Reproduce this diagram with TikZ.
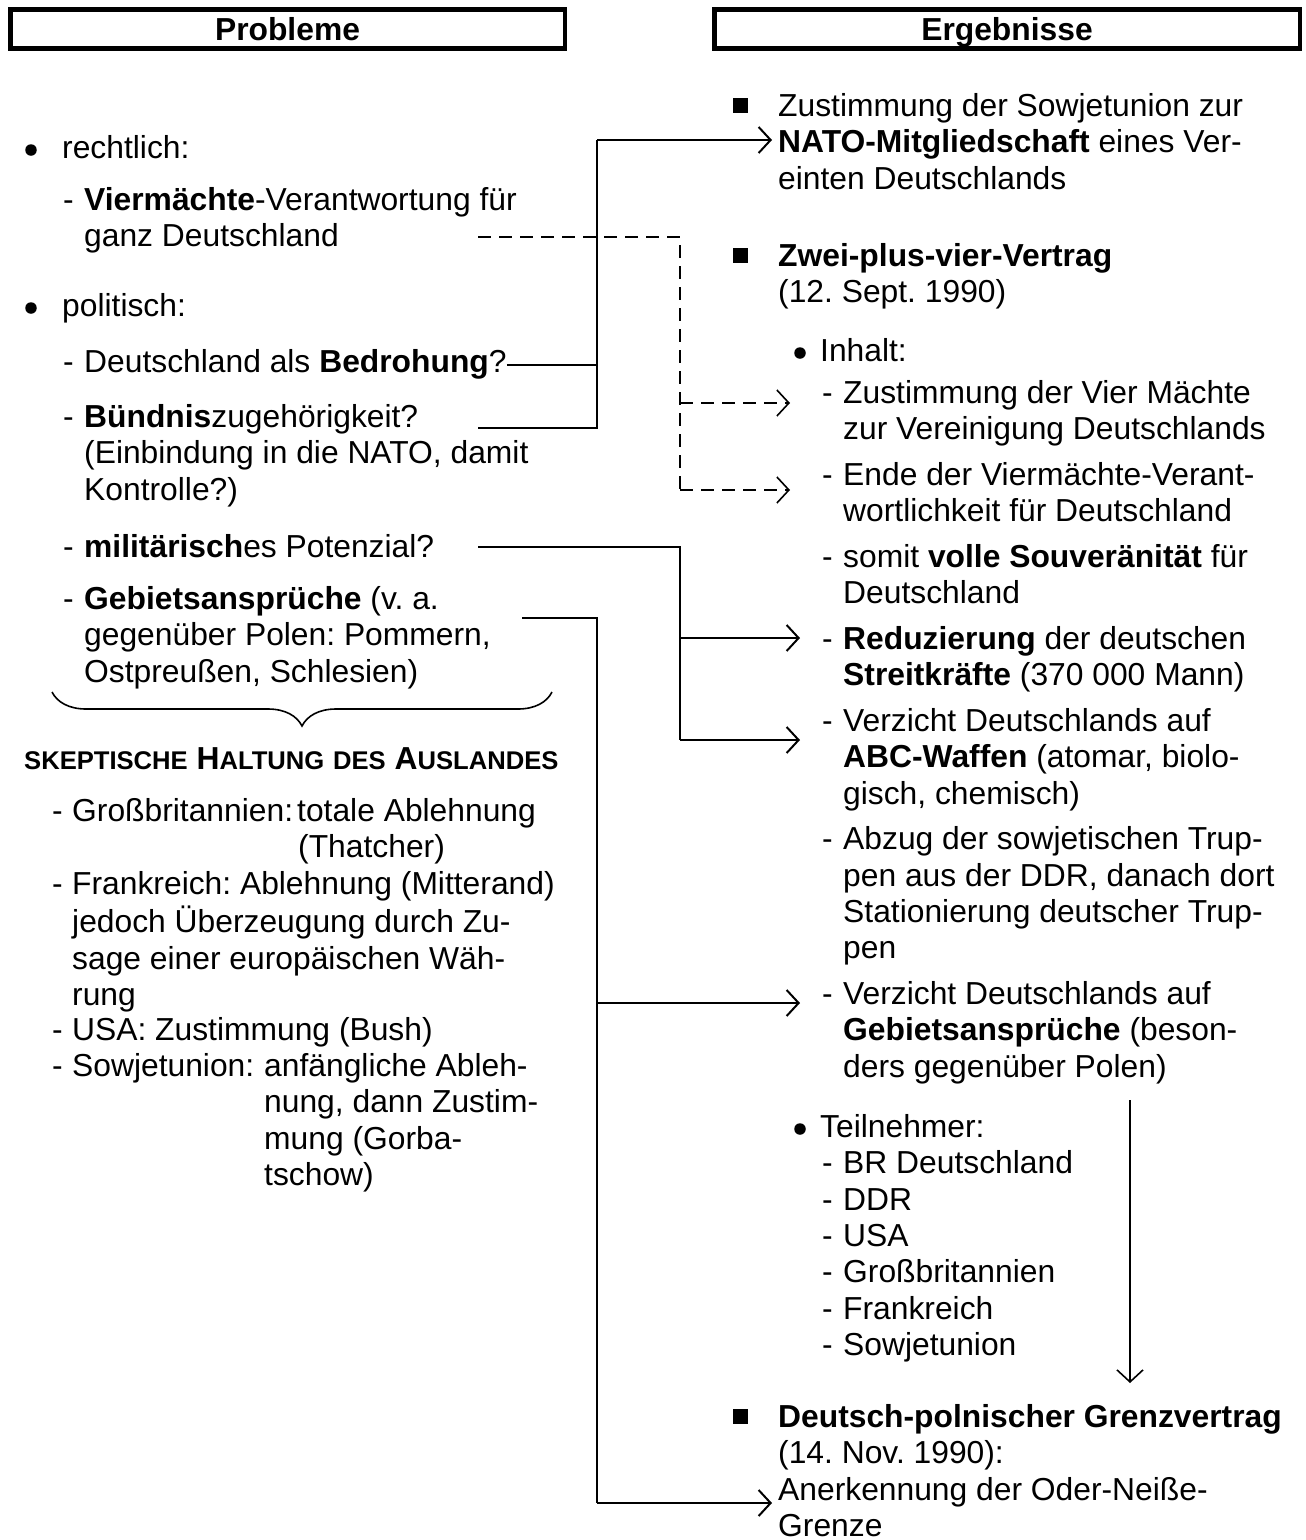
\documentclass[tikz,border=0pt]{standalone}
\usepackage{fontspec}
\setmainfont{Liberation Sans}
\usetikzlibrary{arrows.meta,decorations.pathreplacing}
\newcommand\bodyfont{\fontsize{31.8}{36.4}\selectfont}
\newcommand\scfont{\fontsize{25.6}{36.4}\selectfont}
\newcommand\TX[4]{\node[txt] (#1) at (#2,#3-25.48) {\strut #4};}
\frenchspacing
\begin{document}
\begin{tikzpicture}[x=1pt,y=-1pt,font=\bodyfont,
  txt/.style={inner sep=0pt,anchor=north west,align=left},
  hdr/.style={draw,line width=4.5pt,inner sep=0pt,text height=22.8pt,text depth=0pt,font=\bodyfont\bfseries},
  dot/.style={circle,fill,inner sep=0pt,minimum size=11.5pt},
  sq/.style={rectangle,fill,inner sep=0pt,minimum size=15pt},
  conn/.style={line width=2pt},
  dconn/.style={line width=1.6pt,dash pattern=on 13pt off 8pt},
  arr/.style={-{Straight Barb[length=12pt,width=26pt]}}]
\useasboundingbox (0,0) rectangle (1306,1540);

% headers
\node[hdr,minimum width=554.5pt,minimum height=39pt] (hP) at (287.5,29) {Probleme};
\node[hdr,minimum width=585.5pt,minimum height=39pt] (hE) at (1007,29) {Ergebnisse};

% ---------- left column ----------
\node[dot] (bl1) at (31,150) {};
\TX{rechtl}{62}{158}{rechtlich:}
\TX{d1}{63}{210}{-}
\TX{vierm}{84}{210}{\textbf{Viermächte}-Verantwortung für\\ganz Deutschland}
\node[dot] (bl2) at (31,308) {};
\TX{polit}{62}{316}{politisch:}
\TX{d2}{63}{372}{-}
\TX{bedro}{84}{372}{Deutschland als \textbf{Bedrohung}?}
\TX{d3}{63}{427}{-}
\TX{buend}{84}{427}{\textbf{Bündnis}zugehörigkeit?\\(Einbindung in die NATO, damit\\Kontrolle?)}
\TX{d4}{63}{557}{-}
\TX{milit}{84}{557}{\textbf{militärisch}es Potenzial?}
\TX{d5}{63}{609}{-}
\TX{gebiet}{84}{609}{\textbf{Gebietsansprüche} (v. a.\\gegenüber Polen: Pommern,\\Ostpreußen, Schlesien)}

\draw[line width=1.6pt,decorate,decoration={brace,mirror,amplitude=34pt}] (52,692) -- (552,692);

\TX{skep}{24}{769}{\bfseries{\scfont SKEPTISCHE} H{\scfont ALTUNG} {\scfont DES} A{\scfont USLANDES}}

\TX{d6}{52}{821}{-}
\TX{gb}{72}{821}{Großbritannien:}
\TX{gbv}{297}{821}{totale Ablehnung\\\hspace*{1pt}(Thatcher)}
\TX{d7}{52}{894}{-}
\TX{fr}{72}{894}{Frankreich: Ablehnung (Mitterand)\\jedoch Überzeugung durch Zu-\\sage einer europäischen Wäh-\\rung}
\TX{d8}{52}{1040}{-}
\TX{usa}{72}{1040}{USA: Zustimmung (Bush)}
\TX{d9}{52}{1076}{-}
\TX{su}{72}{1076}{Sowjetunion:}
\TX{suv}{264}{1076}{anfängliche Ableh-\\nung, dann Zustim-\\mung (Gorba-\\tschow)}

% ---------- right column ----------
\node[sq] (sq1) at (740.5,105) {};
\TX{nato}{778}{116}{Zustimmung der Sowjetunion zur\\\textbf{NATO-Mitgliedschaft} eines Ver-\\einten Deutschlands}
\node[sq] (sq2) at (740.5,255) {};
\TX{zpv}{778}{266}{\textbf{Zwei-plus-vier-Vertrag}\\(12. Sept. 1990)}
\node[dot] (bl3) at (800,353) {};
\TX{inh}{820}{361}{Inhalt:}
\TX{d10}{822}{403}{-}
\TX{vier}{843}{403}{Zustimmung der Vier Mächte\\zur Vereinigung Deutschlands}
\TX{d11}{822}{485}{-}
\TX{ende}{843}{485}{Ende der Viermächte-Verant-\\wortlichkeit für Deutschland}
\TX{d12}{822}{567}{-}
\TX{somit}{843}{567}{somit \textbf{volle Souveränität} für\\Deutschland}
\TX{d13}{822}{649}{-}
\TX{redu}{843}{649}{\textbf{Reduzierung} der deutschen\\\textbf{Streitkräfte} (370 000 Mann)}
\TX{d14}{822}{731}{-}
\TX{abc}{843}{731}{Verzicht Deutschlands auf\\\textbf{ABC-Waffen} (atomar, biolo-\\gisch, chemisch)}
\TX{d15}{822}{849.4}{-}
\TX{abzug}{843}{849.4}{Abzug der sowjetischen Trup-\\pen aus der DDR, danach dort\\Stationierung deutscher Trup-\\pen}
\TX{d16}{822}{1004.2}{-}
\TX{verz}{843}{1004.2}{Verzicht Deutschlands auf\\\textbf{Gebietsansprüche} (beson-\\ders gegenüber Polen)}
\node[dot] (bl4) at (800,1129) {};
\TX{teil}{820}{1137}{Teilnehmer:}
\TX{teill}{822}{1173.4}{\makebox[21pt][l]{-}BR Deutschland\\\makebox[21pt][l]{-}DDR\\\makebox[21pt][l]{-}USA\\\makebox[21pt][l]{-}Großbritannien\\\makebox[21pt][l]{-}Frankreich\\\makebox[21pt][l]{-}Sowjetunion}
\node[sq] (sq3) at (740.5,1416) {};
\TX{dpg}{778}{1427}{\textbf{Deutsch-polnischer Grenzvertrag}\\(14. Nov. 1990):\\Anerkennung der Oder-Neiße-\\Grenze}

% ---------- connectors ----------
\coordinate (v1top) at (597,140);
\coordinate (v1bot) at (597,428);
\coordinate (natoTip) at (772,140);
\coordinate (buendEnd) at (478,428);
\draw[conn] (buendEnd) -- (v1bot) -- (v1top);
\draw[conn,arr] (v1top) -- (natoTip);
\draw[conn] (bedro.east) -- (bedro.east -| v1top);

\coordinate (dStart) at (478,237);
\coordinate (dTop) at (680,237);
\coordinate (dMid) at (680,403);
\coordinate (dBot) at (680,490);
\coordinate (aVier) at (790,403);
\coordinate (aEnde) at (790,490);
\draw[dconn] (dStart) -- (dTop) -- (dBot);
\draw[dconn,arr] (dMid) -- (aVier);
\draw[dconn,arr] (dBot) -- (aEnde);

\coordinate (mStart) at (478,547);
\coordinate (mTop) at (680,547);
\coordinate (mMid) at (680,638);
\coordinate (mBot) at (680,740);
\coordinate (aRed) at (800,638);
\coordinate (aABC) at (800,740);
\draw[conn] (mStart) -- (mTop) -- (mBot);
\draw[conn,arr] (mMid) -- (aRed);
\draw[conn,arr] (mBot) -- (aABC);

\coordinate (gStart) at (522,618);
\coordinate (gTop) at (597,618);
\coordinate (gMid) at (597,1003);
\coordinate (gBot) at (597,1503);
\coordinate (aVerz) at (800,1003);
\coordinate (aGrenz) at (772,1503);
\draw[conn] (gStart) -- (gTop) -- (gBot);
\draw[conn,arr] (gMid) -- (aVerz);
\draw[conn,arr] (gBot) -- (aGrenz);

\coordinate (downTop) at (1130,1100);
\coordinate (downTip) at (1130,1383);
\draw[line width=1.6pt,arr] (downTop) -- (downTip);
\end{tikzpicture}
\end{document}
